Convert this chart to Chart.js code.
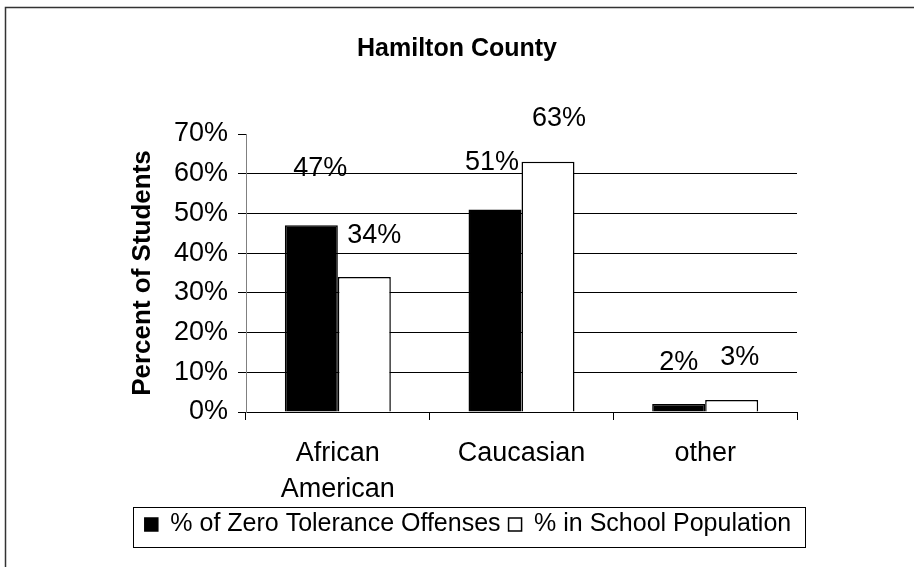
<!DOCTYPE html>
<html>
<head>
<meta charset="utf-8">
<script src="https://cdn.jsdelivr.net/npm/chart.js@4/dist/chart.umd.min.js"></script>
<style>
  html, body { margin: 0; padding: 0; background: #fff; }
  canvas { display: block; }
</style>
</head>
<body>
<canvas id="chart" width="914" height="567"></canvas>
<script>
const chartTitle = "Hamilton County";
const categories = [["African", "American"], "Caucasian", "other"];
const offenses = [47, 51, 2];
const population = [34, 63, 3];
const seriesNames = ["% of Zero Tolerance Offenses", "% in School Population"];
const yMax = 70;
const yStep = 10;

// Excel left the value labels nudged away from the bars, so keep the nudges (dx, dy from bar top)
const labelShift = [
  [[9, -57], [-3, -47], [0, -42]],
  [[10, -41], [11, -43], [8, -43]],
];

const FONT = "'Liberation Sans', Arial, sans-serif";

const decor = {
  id: "decor",
  beforeDraw(chart) {
    const ctx = chart.ctx;
    ctx.save();
    ctx.fillStyle = "#fff";
    ctx.fillRect(0, 0, chart.width, chart.height);
    ctx.strokeStyle = "#333";
    ctx.lineWidth = 1.5;
    ctx.strokeRect(5.5, 7.5, 940, 620);
    // title sits over the whole frame, not over the legend box, so draw it here
    ctx.fillStyle = "#000";
    ctx.font = "bold 25px " + FONT;
    ctx.textAlign = "center";
    ctx.textBaseline = "middle";
    ctx.fillText(chartTitle, 457, 49);
    ctx.restore();
  },
  afterDatasetsDraw(chart) {
    const ctx = chart.ctx;
    ctx.save();
    ctx.font = "27px " + FONT;
    ctx.fillStyle = "#000";
    ctx.textAlign = "center";
    ctx.textBaseline = "middle";
    chart.data.datasets.forEach((ds, di) => {
      chart.getDatasetMeta(di).data.forEach((bar, i) => {
        const [dx, dy] = labelShift[di][i];
        ctx.fillText(ds.data[i] + "%", bar.x + dx, bar.y + dy);
      });
    });
    ctx.restore();
  },
  afterDraw(chart) {
    const boxes = chart.legend.legendHitBoxes;
    if (!boxes || !boxes.length) return;
    const first = boxes[0];
    const last = boxes[boxes.length - 1];
    const ctx = chart.ctx;
    ctx.save();
    ctx.strokeStyle = "#000";
    ctx.lineWidth = 1;
    const x1 = Math.round(first.left - 12) + 0.5;
    const x2 = Math.round(last.left + last.width + 14) + 0.5;
    const y1 = Math.round(first.top - 5) + 0.5;
    const y2 = Math.round(first.top + first.height + 10) + 0.5;
    ctx.strokeRect(x1, y1, x2 - x1, y2 - y1);
    ctx.restore();
  },
};

new Chart(document.getElementById("chart"), {
  type: "bar",
  data: {
    labels: categories,
    datasets: [
      {
        label: seriesNames[0],
        data: offenses,
        backgroundColor: "#000",
        borderColor: "#000",
        borderWidth: 1.5,
      },
      {
        label: seriesNames[1],
        data: population,
        backgroundColor: "#fff",
        borderColor: "#000",
        borderWidth: 1.5,
      },
    ],
  },
  options: {
    responsive: false,
    animation: false,
    events: [],
    layout: { padding: { left: 22, right: 0, top: 134, bottom: 20 } },
    datasets: { bar: { barPercentage: 1, categoryPercentage: 0.577 } },
    plugins: {
      title: { display: false },
      legend: {
        position: "bottom",
        labels: {
          color: "#000",
          font: { family: FONT, size: 25 },
          boxWidth: 13,
          boxHeight: 13,
          padding: 8,
        },
      },
      tooltip: { enabled: false },
    },
    scales: {
      x: {
        afterFit: (scale) => { scale.height = 92; },
        grid: {
          offset: true,
          drawOnChartArea: false,
          drawTicks: true,
          tickLength: 8,
          color: "#000",
        },
        border: { display: true, color: "#000", width: 1 },
        ticks: {
          color: "#000",
          font: { family: FONT, size: 27, lineHeight: 1.35 },
          padding: 15,
          maxRotation: 0,
        },
      },
      y: {
        min: 0,
        max: yMax,
        afterFit: (scale) => { scale.width = 224; },
        grid: {
          color: (c) => (c.tick && c.tick.value === yMax ? "rgba(0,0,0,0)" : "#000"),
          tickColor: "#000",
          tickLength: 8,
          lineWidth: 1,
        },
        border: { display: true, color: "#808080", width: 1 },
        ticks: {
          stepSize: yStep,
          color: "#000",
          font: { family: FONT, size: 27 },
          padding: 10,
          callback: (v) => v + "%",
        },
        title: {
          display: true,
          text: "Percent of Students",
          color: "#000",
          font: { family: FONT, size: 26, weight: "bold" },
          padding: { top: 105, bottom: 0 },
        },
      },
      // empty right-hand box that only holds the plot's right margin
      spacer: {
        type: "linear",
        position: "right",
        afterFit: (scale) => { scale.width = 117; },
        grid: { display: false },
        border: { display: false },
        ticks: { display: false },
      },
    },
  },
  plugins: [decor],
});
</script>
</body>
</html>
